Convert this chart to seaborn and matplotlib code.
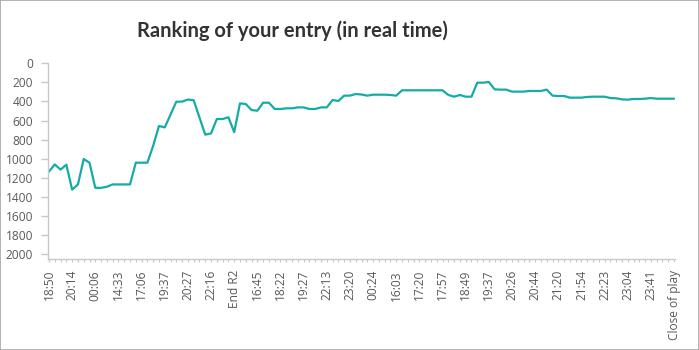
import matplotlib
matplotlib.use("Agg")
import matplotlib.pyplot as plt
import seaborn as sns
import pandas as pd
from matplotlib.patches import Rectangle

# Ranking after each update (lower is better), one value per snapshot
ranks = [
    1135, 1060, 1115, 1063, 1325, 1270, 1004, 1042, 1306, 1306,
    1294, 1270, 1270, 1270, 1270, 1042, 1042, 1042, 865, 657,
    672, 538, 402, 402, 380, 387, 568, 748, 735, 584,
    584, 566, 722, 420, 427, 490, 497, 413, 413, 479,
    479, 472, 472, 462, 462, 479, 479, 462, 462, 385,
    395, 339, 339, 322, 327, 339, 329, 329, 329, 332,
    339, 283, 283, 283, 283, 283, 283, 283, 283, 332,
    350, 332, 350, 350, 203, 203, 196, 273, 276, 276,
    297, 297, 297, 290, 290, 290, 276, 339, 343, 343,
    360, 360, 360, 353, 350, 350, 350, 364, 367, 378,
    381, 374, 374, 371, 364, 371, 371, 371, 371,
]

# Snapshot labels shown along the x axis (every fourth snapshot)
tick_labels = [
    "18:50", "20:14", "00:06", "14:33", "17:06", "19:37", "20:27",
    "22:16", "End R2", "16:45", "18:22", "19:27", "22:13", "23:20",
    "00:24", "16:03", "17:20", "17:57", "18:49", "19:37", "20:26",
    "20:44", "21:20", "21:54", "22:23", "23:04", "23:41", "Close of play",
]
label_step = 4

df = pd.DataFrame({"snapshot": range(len(ranks)), "rank": ranks})

sns.set_style("white")
plt.rcParams["font.family"] = ["Open Sans", "DejaVu Sans"]

fig = plt.figure(figsize=(6.99, 3.5), dpi=100)
ax = fig.add_axes([0.0691, 0.26, 0.8966, 0.5591])

sns.lineplot(data=df, x="snapshot", y="rank", ax=ax,
             color="#15ABA6", linewidth=1.6)

ax.set_ylim(2052, 0)
ax.set_xlim(-0.12, 108.17)
ax.set_yticks(range(0, 2001, 200))

full_labels = [""] * len(ranks)
for k, lab in enumerate(tick_labels):
    full_labels[k * label_step] = lab
ax.set_xticks(range(len(ranks)))
ax.set_xticklabels(full_labels, rotation=90)

axis_grey = "#c8c8c8"
text_grey = "#595959"
for side in ("top", "right"):
    ax.spines[side].set_visible(False)
for side in ("left", "bottom"):
    ax.spines[side].set_color(axis_grey)
    ax.spines[side].set_linewidth(1.0)

ax.tick_params(axis="y", length=4.8, width=1.0, color=axis_grey,
               labelcolor=text_grey, labelsize=8.6, pad=6, left=True)
ax.tick_params(axis="x", length=2.4, width=0.8, color=axis_grey,
               labelcolor=text_grey, labelsize=8.6, pad=5.5, bottom=True)
ax.set_xlabel("")
ax.set_ylabel("")

fig.text(0.419, 0.912, "Ranking of your entry (in real time)",
         ha="center", va="center", fontsize=14.5, fontweight="bold",
         color="#333333", family=["Lato", "DejaVu Sans"])

# Thin grey frame around the whole figure
fig.patches.append(Rectangle((0.0007, 0.0014), 0.9986, 0.9972,
                             transform=fig.transFigure, fill=False,
                             edgecolor="#a6a6a6", linewidth=1.2))

fig.savefig("out.png", dpi=100)
